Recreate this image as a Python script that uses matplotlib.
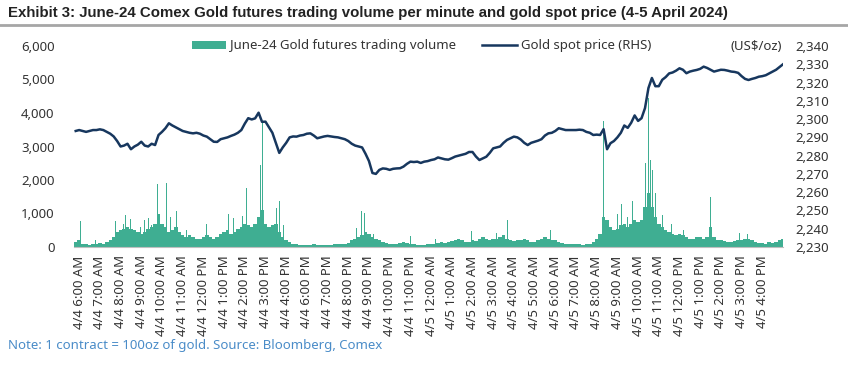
import numpy as np
import matplotlib
matplotlib.use("Agg")
import matplotlib.pyplot as plt
from matplotlib.lines import Line2D
from matplotlib.patches import Patch

# ---------------- data ----------------
# compressed trading-hour axis: 0 = 4/4 6:00 AM ... 10 = 4/4 4:00 PM, 11 = 4/4 6:00 PM (5-6 PM closed) ... 33 = 4/5 4:00 PM
tick_labels = (["4/4 6:00 AM", "4/4 7:00 AM", "4/4 8:00 AM", "4/4 9:00 AM", "4/4 10:00 AM",
                "4/4 11:00 AM", "4/4 12:00 PM", "4/4 1:00 PM", "4/4 2:00 PM", "4/4 3:00 PM",
                "4/4 4:00 PM", "4/4 6:00 PM", "4/4 7:00 PM", "4/4 8:00 PM", "4/4 9:00 PM",
                "4/4 10:00 PM", "4/4 11:00 PM", "4/5 12:00 AM", "4/5 1:00 AM", "4/5 2:00 AM",
                "4/5 3:00 AM", "4/5 4:00 AM", "4/5 5:00 AM", "4/5 6:00 AM", "4/5 7:00 AM",
                "4/5 8:00 AM", "4/5 9:00 AM", "4/5 10:00 AM", "4/5 11:00 AM", "4/5 12:00 PM",
                "4/5 1:00 PM", "4/5 2:00 PM", "4/5 3:00 PM", "4/5 4:00 PM"])

t_start = -1 / 6   # first sample (hours on compressed axis)
t_end = 34.0       # last sample

# gold spot price, 10-minute samples (US$/oz)
price = [2293.5,
    2294, 2293.5, 2293, 2293.5, 2294, 2294,
    2294.4, 2294, 2293, 2292, 2290.5, 2288,
    2285, 2285.5, 2286.5, 2283.5, 2285, 2286,
    2287.6, 2285.5, 2285, 2286.5, 2285.8, 2291.3,
    2293, 2295, 2297.7, 2296.5, 2295.5, 2294.5,
    2293.5, 2293, 2292.5, 2292.2, 2292.5, 2292,
    2291, 2290.4, 2289, 2287.6, 2287.5, 2289,
    2289.5, 2290, 2290.8, 2291.5, 2292.5, 2294,
    2297.5, 2300.5, 2299.8, 2300.4, 2303.5, 2298.5,
    2298.6, 2295.5, 2292.5, 2287, 2281.5, 2284.5,
    2287, 2290, 2290.5, 2290.4, 2291, 2291.3,
    2292, 2292.2, 2291, 2289.5, 2290, 2290.5,
    2290.8, 2290.5, 2290.2, 2290, 2289.5, 2289,
    2288, 2286.5, 2285.5, 2285, 2284.5, 2281,
    2277, 2270.5, 2270, 2272.2, 2273, 2272.8,
    2272.2, 2272.8, 2273, 2273.1, 2274, 2275.5,
    2276.7, 2276.5, 2276.7, 2276, 2276.7, 2277,
    2277.6, 2278, 2279, 2278.5, 2278, 2277.8,
    2278.6, 2279.5, 2280, 2280.5, 2281, 2282,
    2282, 2279.5, 2277.6, 2278.5, 2279.4, 2281.5,
    2284, 2284.5, 2285, 2287, 2288.6, 2289.5,
    2290.4, 2290, 2288.8, 2287, 2285.8, 2287,
    2287.6, 2288.2, 2289, 2291, 2292.2, 2292.5,
    2293.5, 2295, 2294.5, 2294, 2294, 2294,
    2294, 2294.2, 2294, 2293, 2292.5, 2291.3,
    2291.5, 2291.3, 2294.5, 2283.5, 2286.8, 2288,
    2290, 2292.5, 2296.5, 2295.2, 2298, 2302,
    2299, 2300.5, 2306, 2317, 2322.5, 2318,
    2318, 2321.5, 2323, 2325, 2325.5, 2326.5,
    2327.8, 2327, 2325.1, 2326, 2326.5, 2326.9,
    2327.5, 2328.7, 2328, 2327, 2326, 2326.5,
    2327, 2326.9, 2326.5, 2326, 2325.8, 2325.3,
    2323.5, 2322, 2321.4, 2322, 2322.5, 2323.2,
    2323.5, 2324, 2325, 2326, 2327, 2328.5,
    2330]

# typical per-minute futures volume, 10-minute samples (contracts)
volume = [150,
    200, 100, 80, 60, 80, 100,
    120, 80, 150, 200, 300, 450,
    500, 550, 600, 550, 500, 450,
    400, 450, 550, 600, 700, 1000,
    700, 600, 450, 500, 600, 450,
    350, 300, 350, 300, 250, 250,
    300, 350, 300, 250, 300, 400,
    450, 500, 400, 450, 550, 600,
    700, 650, 600, 700, 900, 1100,
    700, 600, 650, 700, 450, 300,
    200, 150, 100, 80, 60, 60,
    70, 60, 80, 60, 60, 70,
    60, 70, 80, 100, 80, 100,
    120, 200, 250, 300, 350, 450,
    400, 300, 250, 200, 150, 120,
    100, 80, 100, 120, 150, 120,
    100, 80, 60, 70, 60, 80,
    80, 100, 120, 150, 120, 150,
    180, 220, 250, 200, 150, 150,
    200, 180, 250, 300, 250, 200,
    250, 250, 300, 350, 250, 200,
    180, 200, 220, 250, 200, 150,
    150, 200, 250, 300, 250, 200,
    200, 150, 120, 100, 100, 80,
    100, 80, 70, 80, 100, 150,
    250, 400, 900, 800, 600, 500,
    550, 650, 700, 600, 700, 800,
    750, 800, 1200, 1600, 1200, 900,
    700, 600, 500, 450, 400, 350,
    400, 350, 300, 250, 250, 300,
    300, 250, 300, 600, 300, 200,
    200, 180, 150, 150, 180, 200,
    200, 250, 250, 200, 150, 120,
    120, 100, 150, 120, 150, 200,
    250]

# single-minute volume spikes: time (compressed hours) and contracts
spike_t = [0.08, 0.8, 1.75, 2.15, 2.25, 2.5, 2.95, 3.15, 3.35, 3.5, 3.8, 4.24, 4.4, 4.68,
           5.2, 6.13, 6.9, 7.2, 7.45, 7.9, 8.1, 8.3, 8.6, 8.78, 8.84, 9.55, 9.67, 9.85,
           13.4, 13.65, 13.8, 14.2, 15.99, 17.2, 18.95, 20.15, 20.7, 22.6, 22.75,
           25.35, 25.4, 25.55, 26.0, 26.2, 26.5, 26.75, 26.9, 27.35, 27.5, 27.58, 27.7,
           27.85, 28.2, 28.6, 29.2, 30.5, 31.9, 32.3]
spike_v = [780, 220, 770, 700, 970, 850, 600, 800, 880, 650, 1870, 1920, 900, 1070,
           500, 680, 820, 1000, 870, 920, 1750, 800, 900, 2450, 3700, 1170, 1370, 650,
           570, 1070, 1020, 400, 320, 250, 470, 420, 820, 500, 500,
           3750, 1715, 700, 1000, 1270, 900, 1370, 1100, 2510, 4450, 2600, 2300,
           1600, 970, 700, 520, 1500, 420, 400]

vol_ticks = [0, 1000, 2000, 3000, 4000, 5000, 6000]
price_ticks = [2230, 2240, 2250, 2260, 2270, 2280, 2290, 2300, 2310, 2320, 2330, 2340]

title = "Exhibit 3: June-24 Comex Gold futures trading volume per minute and gold spot price (4-5 April 2024)"
note = "Note: 1 contract = 100oz of gold. Source: Bloomberg, Comex"

# ---------------- style ----------------
TEAL = "#3fae92"
NAVY = "#17375e"
TXT = "#333333"
FONT = ["Noto Sans", "DejaVu Sans"]
plt.rcParams["font.family"] = FONT

fig = plt.figure(figsize=(8.48, 3.68), dpi=100)
ax = fig.add_axes([74 / 848, 1 - 247 / 368, 709 / 848, 201 / 368])
ax2 = ax.twinx()

t_price = np.linspace(t_start, t_end, len(price))
t_vol = np.linspace(t_start, t_end, len(volume))

ax.bar(t_vol, volume, width=1 / 6, color=TEAL, linewidth=0, zorder=2)
ax.bar(spike_t, spike_v, width=0.045, color=TEAL, linewidth=0, zorder=2)
ax2.plot(t_price, price, color=NAVY, lw=1.8, zorder=3)

ax.set_xlim(-0.25, 34.0)
ax.set_ylim(0, 6000)
ax2.set_ylim(2230, 2340)

ax.set_yticks(vol_ticks)
ax.set_yticklabels([f"{v:,}" for v in vol_ticks])
ax2.set_yticks(price_ticks)
ax2.set_yticklabels([f"{v:,}" for v in price_ticks])
ax.set_xticks(range(len(tick_labels)))
ax.set_xticklabels(tick_labels, rotation=90)

for a in (ax, ax2):
    for s in a.spines.values():
        s.set_visible(False)
ax.spines["bottom"].set_visible(True)
ax.spines["bottom"].set_color("#bfbfbf")
ax.spines["bottom"].set_linewidth(0.8)

ax.tick_params(axis="y", length=0, pad=14, labelsize=9.5, colors=TXT)
ax2.tick_params(axis="y", length=0, pad=9, labelsize=9.5, colors=TXT)
ax.tick_params(axis="x", length=0, pad=6, labelsize=9.5, colors=TXT)

# legend
handles = [Patch(facecolor=TEAL, edgecolor="none"),
           Line2D([0], [0], color=NAVY, lw=1.8)]
leg = ax.legend(handles, ["June-24 Gold futures trading volume", "Gold spot price (RHS)"],
                loc="center", bbox_to_anchor=(0.49, 1.0), ncol=2, frameon=False,
                fontsize=9.5, handlelength=2.6, handleheight=0.6, handletextpad=0.3,
                columnspacing=2.0, borderaxespad=0)
for t in leg.get_texts():
    t.set_color(TXT)

ax.text(0.9985, 1.0, "(US$/oz)", transform=ax.transAxes, ha="right", va="center",
        fontsize=9.5, color=TXT)

# title (fitted to the reference width) and rule
ttl = fig.text(8 / 848, 1 - 13 / 368, title, family=["Liberation Sans", "DejaVu Sans"],
               fontweight="bold", fontsize=12, color="#222222", ha="left", va="center")
fig.canvas.draw()
w = ttl.get_window_extent().width
ttl.set_fontsize(12 * 717 / w)
fig.add_artist(Line2D([0, 1], [1 - 25 / 368, 1 - 25 / 368], transform=fig.transFigure,
                      color="#a6a6a6", lw=2))

fig.text(8 / 848, 1 - 345 / 368, note, fontsize=9.5, color="#4a8cc8", ha="left", va="center")

fig.savefig("out.png", dpi=100)
